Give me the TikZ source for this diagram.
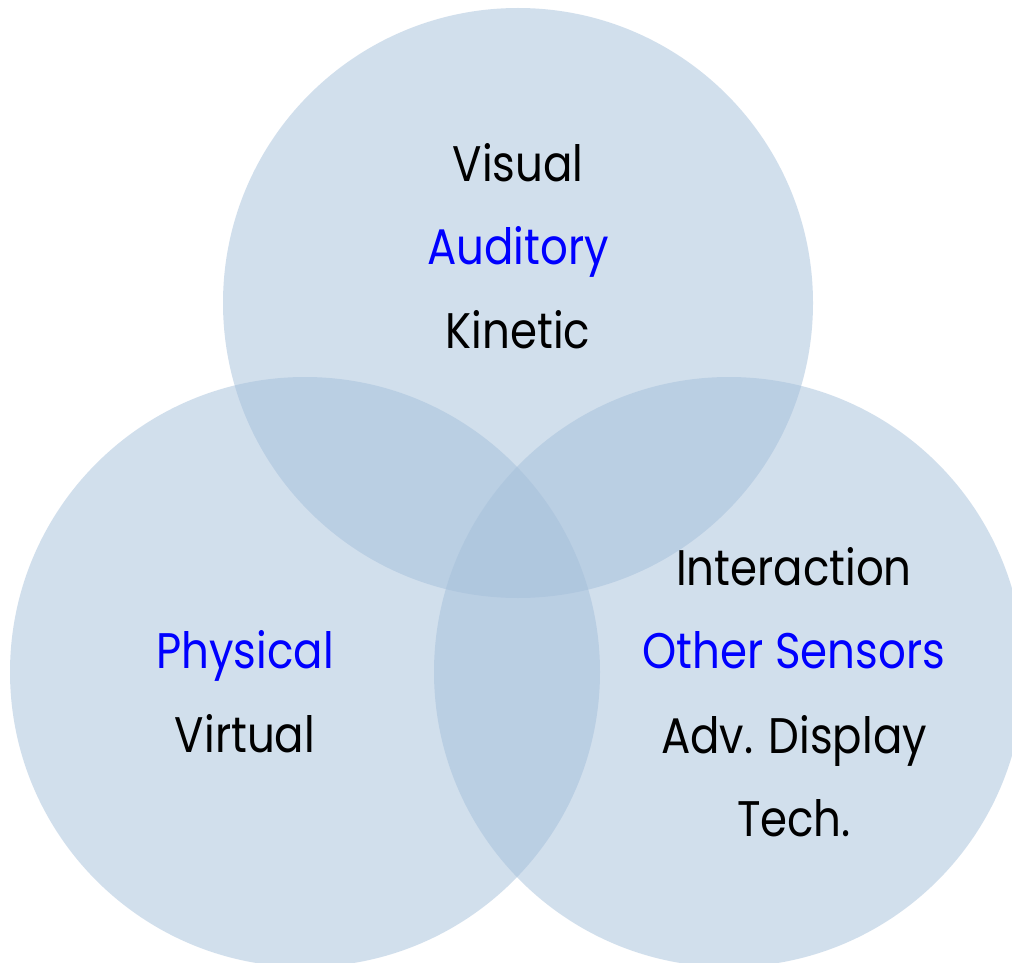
\documentclass[tikz,border=0pt]{standalone}
\usepackage{fontspec}
\setmainfont{Poppins}[FakeStretch=0.87]
\definecolor{vennfill}{RGB}{165,192,219}
\definecolor{vennblue}{RGB}{0,0,255}
\begin{document}
\begin{tikzpicture}[x=1pt,y=-1pt,
  venn/.style={fill=vennfill,fill opacity=0.5,draw=none},
  lbl/.style={anchor=base,inner sep=0pt,font=\fontsize{50}{60}\selectfont,text=black},
  lblb/.style={lbl,text=vennblue}]
\useasboundingbox (0,0) rectangle (1012,963);
\fill[white] (0,0) rectangle (1012,963);
\path[venn] (518,303) circle[radius=295];
\path[venn] (305,672) circle[radius=295];
\path[venn] (729,672) circle[radius=295];
\node[lbl]  (visual)   at (518,181) {Visual};
\node[lblb] (auditory) at (518,264) {Auditory};
\node[lbl]  (kinetic)  at (518,348) {Kinetic};
\node[lblb] (physical) at (245,668) {Physical};
\node[lbl]  (virtual)  at (245,752) {Virtual};
\node[lbl]  (interaction) at (794,585) {Interaction};
\node[lblb] (sensors)  at (794,668) {Other Sensors};
\node[lbl]  (display)  at (794,753) {Adv. Display};
\node[lbl]  (tech)     at (794,836) {Tech.};
\end{tikzpicture}
\end{document}
